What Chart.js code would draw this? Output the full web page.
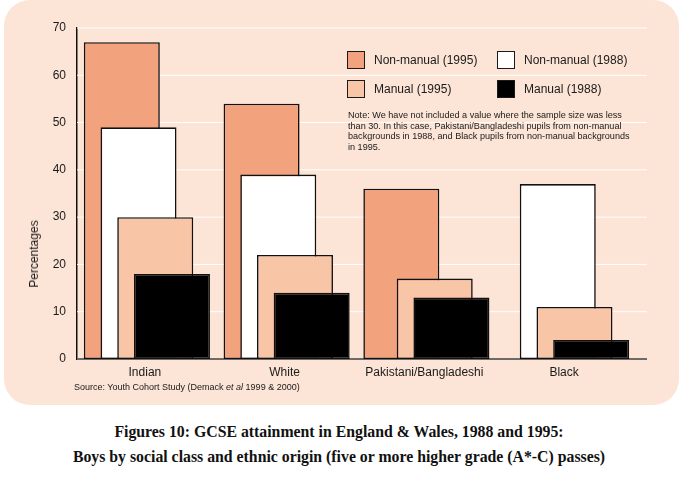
<!DOCTYPE html>
<html><head><meta charset="utf-8">
<script src="https://cdn.jsdelivr.net/npm/chart.js@4.4.1/dist/chart.umd.min.js"></script>
<style>
html,body{margin:0;padding:0;background:#fff;width:688px;height:485px;overflow:hidden;font-family:"Liberation Sans",Arial,sans-serif;color:#1a1a1a;}
#panel{position:absolute;left:4px;top:0;width:675px;height:405px;background:#FCE4D6;border-radius:26px;}
#wrap{position:absolute;left:0;top:0;width:688px;height:410px;}
#ytitle{position:absolute;left:34px;top:254px;transform:translate(-50%,-50%) rotate(-90deg);font-size:12px;white-space:nowrap;}
#source{position:absolute;left:74px;top:382px;font-size:9px;white-space:nowrap;}
#legend{position:absolute;left:347px;top:51px;width:300px;}
.li{position:absolute;height:19px;font-size:12px;line-height:19px;white-space:nowrap;}
.sw{display:inline-block;width:16px;height:16px;border:1.5px solid #1a1a1a;vertical-align:top;margin-right:9px;}
#note{position:absolute;left:348px;top:110px;font-size:9.1px;line-height:10.7px;white-space:nowrap;}
#title{position:absolute;left:-5px;top:419px;width:688px;text-align:center;font-family:"Liberation Serif","Times New Roman",serif;font-weight:bold;font-size:15.8px;line-height:25px;color:#111;}
</style></head>
<body>
<div id="panel"></div>
<div id="wrap"><canvas id="c" width="688" height="410"></canvas></div>
<div id="ytitle">Percentages</div>
<div id="source">Source: Youth Cohort Study (Demack <i>et al</i> 1999 &amp; 2000)</div>
<div id="legend"></div>
<div id="note">Note: We have not included a value where the sample size was less<br>than 30. In this case, Pakistani/Bangladeshi pupils from non-manual<br>backgrounds in 1988, and Black pupils from non-manual backgrounds<br>in 1995.</div>
<div id="title">Figures 10: GCSE attainment in England &amp; Wales, 1988 and 1995:<br>Boys by social class and ethnic origin (five or more higher grade (A*-C) passes)</div>
<script>
const categories = ['Indian', 'White', 'Pakistani/Bangladeshi', 'Black'];
const seriesNames = ['Non-manual (1995)', 'Non-manual (1988)', 'Manual (1995)', 'Manual (1988)'];
const nonManual1995 = [67, 54, 36, null];
const nonManual1988 = [49, 39, null, 37];
const manual1995 = [30, 22, 17, 11];
const manual1988 = [18, 14, 13, 4];
const yTicks = [0, 10, 20, 30, 40, 50, 60, 70];

const fills = ['#F3A27E', '#FFFFFF', '#F8C5A6', '#000000'];
const seriesValues = [nonManual1995, nonManual1988, manual1995, manual1988];

const datasets = seriesValues.map((vals, i) => ({
  label: seriesNames[i],
  data: vals,
  backgroundColor: fills[i],
  borderColor: '#111111',
  borderWidth: 1.6,
  borderSkipped: false
}));

// legend (HTML, built from datasets)
const legendEl = document.getElementById('legend');
datasets.forEach((d, i) => {
  const el = document.createElement('div');
  el.className = 'li';
  el.style.left = (i % 2) * 150 + 'px';
  el.style.top = Math.floor(i / 2) * 29 + 'px';
  el.innerHTML = '<span class="sw" style="background:' + d.backgroundColor + '"></span>' + d.label;
  legendEl.appendChild(el);
});

const orderPlugin = {
  id: 'orderAndGrid',
  beforeDatasetsDraw(chart) {
    const ctx = chart.ctx, y = chart.scales.y, a = chart.chartArea;
    ctx.save();
    y.ticks.forEach(t => {
      const py = y.getPixelForValue(t.value);
      if (t.value === 0) return;
      ctx.strokeStyle = '#FFFFFF';
      ctx.lineWidth = 1;
      ctx.beginPath();
      ctx.moveTo(a.left, py);
      ctx.lineTo(a.right + 11, py);
      ctx.stroke();
    });
    const p0 = y.getPixelForValue(0);
    ctx.strokeStyle = '#6E6A68';
    ctx.lineWidth = 2;
    ctx.beginPath();
    ctx.moveTo(a.left, p0);
    ctx.lineTo(a.right + 11, p0);
    ctx.stroke();
    ctx.restore();
    for (let i = 0; i < chart.data.datasets.length; i++) {
      chart.getDatasetMeta(i).controller.draw();
    }
    return false;
  }
};

new Chart(document.getElementById('c'), {
  type: 'bar',
  data: { labels: categories, datasets },
  options: {
    responsive: false,
    animation: false,
    layout: { padding: { top: 28, right: 52, bottom: 27, left: 0 } },
    datasets: { bar: { categoryPercentage: 0.478, barPercentage: 4.55 } },
    plugins: { legend: { display: false }, tooltip: { enabled: false }, title: { display: false } },
    scales: {
      x: {
        type: 'category',
        grid: { display: false, drawTicks: false },
        border: { display: false },
        ticks: { color: '#1a1a1a', font: { family: 'Liberation Sans', size: 12 }, padding: 6, labelOffset: -2, maxRotation: 0, autoSkip: false },
        afterFit(s) { s.height = 24; }
      },
      y: {
        min: 0, max: 70,
        grid: { display: false, drawTicks: false },
        border: { display: true, color: '#111111', width: 1.5 },
        afterBuildTicks(s) { s.ticks = yTicks.map(v => ({ value: v })); },
        ticks: { color: '#1a1a1a', font: { family: 'Liberation Sans', size: 12 }, padding: 11 },
        afterFit(s) { s.width = 77; }
      }
    }
  },
  plugins: [orderPlugin]
});
</script>
</body></html>
